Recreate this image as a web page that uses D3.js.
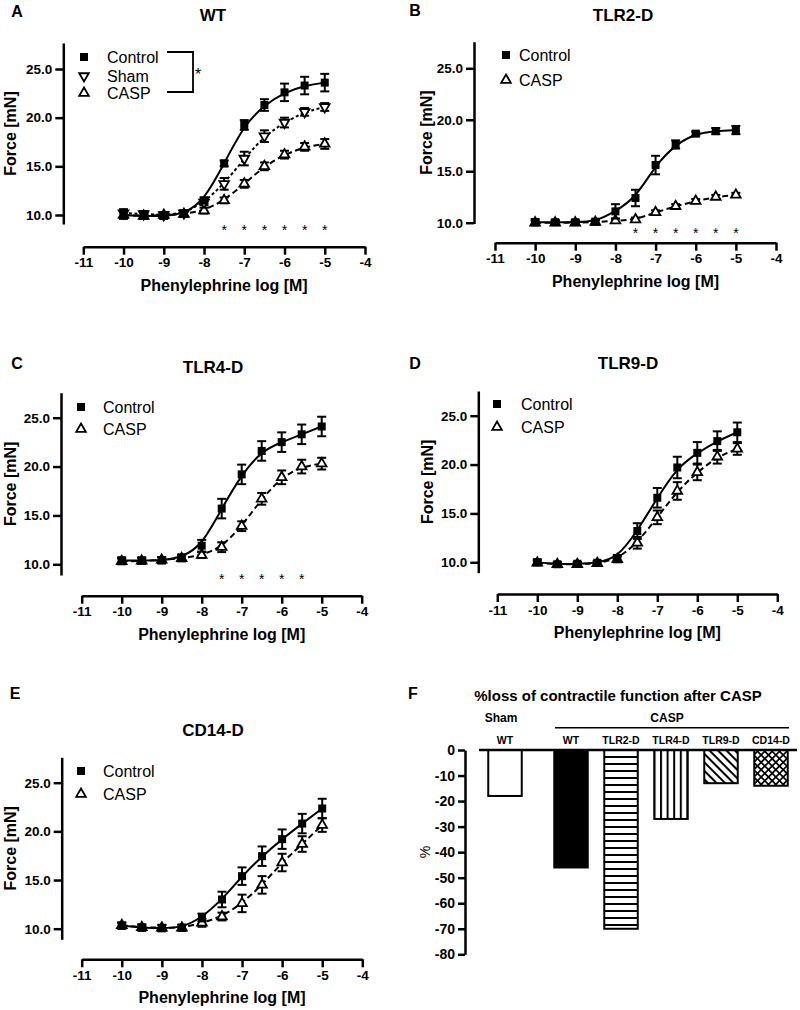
<!DOCTYPE html>
<html><head><meta charset="utf-8">
<script src="https://cdn.jsdelivr.net/npm/d3@7"></script>
<style>
body{margin:0;background:#fff}
svg{display:block}
text{font-family:"Liberation Sans",Arial,Helvetica,sans-serif;fill:#000}
</style>
</head><body>
<svg id="chart" width="800" height="1010"></svg>
<script>
// ---------------- DATA ----------------
const concentrations = [-10, -9.5, -9, -8.5, -8, -7.5, -7, -6.5, -6, -5.5, -5];
const xTickValues = [-11, -10, -9, -8, -7, -6, -5, -4];
const yTickValues = [10, 15, 20, 25];

// A: WT
const wtControl    = [10.0, 9.9, 9.9, 10.1, 11.5, 15.3, 19.25, 21.3, 22.6, 23.3, 23.6];
const wtControlSem = [0.4, 0.3, 0.3, 0.3, 0.3, 0.3, 0.5, 0.6, 0.9, 0.9, 0.9];
const wtSham       = [10.2, 10.1, 10.0, 10.2, 11.3, 13.2, 15.8, 18.1, 19.5, 20.6, 21.1];
const wtShamSem    = [0.4, 0.3, 0.3, 0.3, 0.3, 0.6, 0.7, 0.6, 0.5, 0.4, 0.4];
const wtCasp       = [10.0, 9.9, 10.0, 10.1, 10.45, 11.5, 13.2, 15.0, 16.2, 17.0, 17.3];
const wtCaspSem    = [0.3, 0.3, 0.3, 0.3, 0.3, 0.3, 0.4, 0.4, 0.4, 0.4, 0.5];
// B: TLR2-D
const tlr2Control    = [10.05, 10.05, 10.05, 10.1, 11.1, 12.4, 15.6, 17.6, 18.65, 18.9, 19.0];
const tlr2ControlSem = [0.3, 0.2, 0.2, 0.2, 0.7, 0.8, 0.9, 0.4, 0.2, 0.3, 0.4];
const tlr2Casp       = [10.0, 10.0, 10.0, 10.05, 10.2, 10.3, 11.0, 11.6, 12.1, 12.5, 12.7];
const tlr2CaspSem    = [0.2, 0.2, 0.2, 0.2, 0.2, 0.2, 0.2, 0.2, 0.2, 0.2, 0.2];
// C: TLR4-D
const tlr4Control    = [10.4, 10.4, 10.4, 10.7, 11.9, 15.7, 19.2, 21.6, 22.5, 23.3, 24.1];
const tlr4ControlSem = [0.3, 0.3, 0.3, 0.3, 0.6, 1.0, 1.0, 1.0, 1.0, 1.0, 1.0];
const tlr4Casp       = [10.3, 10.35, 10.45, 10.6, 10.95, 11.75, 13.9, 16.7, 18.9, 20.0, 20.3];
const tlr4CaspSem    = [0.3, 0.3, 0.3, 0.3, 0.3, 0.5, 0.5, 0.6, 0.7, 0.7, 0.6];
// D: TLR9-D
const tlr9Control    = [10.0, 9.8, 9.85, 9.95, 10.45, 13.2, 16.6, 19.7, 21.2, 22.4, 23.3];
const tlr9ControlSem = [0.3, 0.2, 0.2, 0.2, 0.3, 0.8, 1.0, 1.1, 1.1, 1.0, 1.0];
const tlr9Casp       = [9.95, 9.8, 9.8, 9.9, 10.3, 12.0, 14.6, 17.3, 19.2, 20.8, 21.6];
const tlr9CaspSem    = [0.2, 0.2, 0.2, 0.2, 0.3, 0.6, 0.7, 0.9, 0.8, 0.7, 0.6];
// E: CD14-D
const cd14Control    = [10.3, 10.1, 10.05, 10.1, 11.15, 13.0, 15.4, 17.45, 19.2, 20.8, 22.35];
const cd14ControlSem = [0.3, 0.3, 0.3, 0.3, 0.4, 0.8, 0.9, 1.0, 1.0, 1.0, 1.0];
const cd14Casp       = [10.35, 10.15, 10.1, 10.1, 10.6, 11.25, 12.6, 14.5, 16.8, 18.7, 20.65];
const cd14CaspSem    = [0.3, 0.3, 0.3, 0.3, 0.4, 0.4, 0.9, 0.9, 0.9, 0.8, 0.7];
// significance marks
const starsWT   = [-7.5, -7, -6.5, -6, -5.5, -5];
const starsTLR2 = [-7.5, -7, -6.5, -6, -5.5, -5];
const starsTLR4 = [-7.5, -7, -6.5, -6, -5.5];

// F: % loss
const lossLabels = ["WT", "WT", "TLR2-D", "TLR4-D", "TLR9-D", "CD14-D"];
const lossGroups = ["Sham", "CASP", "CASP", "CASP", "CASP", "CASP"];
const lossValues = [-18, -46, -70, -27, -13, -14];
const lossTicks  = [0, -10, -20, -30, -40, -50, -60, -70, -80];

// ---------------- DRAW ----------------
const svg = d3.select("#chart");
const defs = svg.append("defs");

function styleAxis(sel, fs) {
  sel.select(".domain").attr("stroke", "#000").attr("stroke-width", 2.5).attr("fill", "none");
  sel.selectAll(".tick line").attr("stroke", "#000").attr("stroke-width", 2.5);
  sel.selectAll(".tick text").attr("font-size", fs).attr("font-weight", "bold").attr("fill", "#000")
     .style("font-family", '"Liberation Sans",Arial,sans-serif');
}

const symSquare = d3.symbol().type(d3.symbolSquare).size(64);
const symTri = d3.symbol().type(d3.symbolTriangle).size(40);

function drawMarker(g, type, cx, cy) {
  if (type === "square") {
    g.append("path").attr("d", symSquare()).attr("transform", `translate(${cx},${cy})`).attr("fill", "#000");
  } else {
    const rot = type === "triDown" ? 180 : 0;
    g.append("path").attr("d", symTri()).attr("transform", `translate(${cx},${cy}) rotate(${rot})`)
      .attr("fill", "#fff").attr("stroke", "#000").attr("stroke-width", 1.8);
  }
}

const panels = [
  { label: "A", title: "WT", labelPos: [17, 11], titlePos: [213, 15],
    yAxisX: 63.3, x0: 83.3, x1: 365, xAxisY: 246.7, y10: 215, y25: 69, yTop: 43, yBot: 224, yLabelX: 10,
    legend: { sx: 84, tx: 107, ys: [57, 76, 93] },
    series: [
      { name: "Control", v: wtControl, e: wtControlSem, m: "square", dash: null },
      { name: "Sham", v: wtSham, e: wtShamSem, m: "triDown", dash: "3,2.5" },
      { name: "CASP", v: wtCasp, e: wtCaspSem, m: "tri", dash: "6,3.5" }
    ], stars: starsWT, starY: 227, bracket: true },
  { label: "B", title: "TLR2-D", labelPos: [415, 10], titlePos: [623, 15],
    yAxisX: 474, x0: 495, x1: 776, xAxisY: 242.7, y10: 222.7, y25: 68.3, yTop: 41.7, yBot: 223.5, yLabelX: 426,
    legend: { sx: 506, tx: 519, ys: [55, 80] },
    series: [
      { name: "Control", v: tlr2Control, e: tlr2ControlSem, m: "square", dash: null },
      { name: "CASP", v: tlr2Casp, e: tlr2CaspSem, m: "tri", dash: "6,3.5" }
    ], stars: starsTLR2, starY: 230 },
  { label: "C", title: "TLR4-D", labelPos: [17, 363], titlePos: [213, 366.7],
    yAxisX: 61, x0: 81.7, x1: 361.7, xAxisY: 595.7, y10: 564.3, y25: 417.7, yTop: 392.7, yBot: 575, yLabelX: 10,
    legend: { sx: 81, tx: 103, ys: [407, 429] },
    series: [
      { name: "Control", v: tlr4Control, e: tlr4ControlSem, m: "square", dash: null },
      { name: "CASP", v: tlr4Casp, e: tlr4CaspSem, m: "tri", dash: "6,3.5" }
    ], stars: starsTLR4, starY: 576 },
  { label: "D", title: "TLR9-D", labelPos: [415, 363], titlePos: [628, 363],
    yAxisX: 478.3, x0: 497.3, x1: 777.3, xAxisY: 594, y10: 562.3, y25: 415.7, yTop: 391, yBot: 572.7, yLabelX: 427,
    legend: { sx: 497, tx: 521, ys: [404, 427] },
    series: [
      { name: "Control", v: tlr9Control, e: tlr9ControlSem, m: "square", dash: null },
      { name: "CASP", v: tlr9Casp, e: tlr9CaspSem, m: "tri", dash: "6,3.5" }
    ], stars: [], starY: 0 },
  { label: "E", title: "CD14-D", labelPos: [15, 693], titlePos: [213, 730],
    yAxisX: 61.7, x0: 81.7, x1: 362.3, xAxisY: 959.3, y10: 928.7, y25: 782.7, yTop: 757.3, yBot: 939.3, yLabelX: 10,
    legend: { sx: 81, tx: 103, ys: [771, 794] },
    series: [
      { name: "Control", v: cd14Control, e: cd14ControlSem, m: "square", dash: null },
      { name: "CASP", v: cd14Casp, e: cd14CaspSem, m: "tri", dash: "6,3.5" }
    ], stars: [], starY: 0 }
];

panels.forEach(p => {
  const g = svg.append("g");
  const x = d3.scaleLinear().domain([-11, -4]).range([p.x0, p.x1]);
  const yRef = d3.scaleLinear().domain([10, 25]).range([p.y10, p.y25]);
  const y = d3.scaleLinear().domain([yRef.invert(p.yBot), yRef.invert(p.yTop)]).range([p.yBot, p.yTop]);

  // axes
  const ya = g.append("g").attr("transform", `translate(${p.yAxisX},0)`)
    .call(d3.axisLeft(y).tickValues(yTickValues).tickFormat(d => d.toFixed(1)).tickSize(8).tickSizeOuter(0).tickPadding(3));
  styleAxis(ya, 13.5);
  const xa = g.append("g").attr("transform", `translate(0,${p.xAxisY})`)
    .call(d3.axisBottom(x).tickValues(xTickValues).tickFormat(d => String(d)).tickSize(8).tickSizeOuter(0).tickPadding(3));
  styleAxis(xa, 13.5);

  // titles
  g.append("text").attr("x", p.labelPos[0]).attr("y", p.labelPos[1]).attr("dy", "0.35em")
    .attr("text-anchor", "middle").attr("font-size", 16).attr("font-weight", "bold").text(p.label);
  g.append("text").attr("x", p.titlePos[0]).attr("y", p.titlePos[1]).attr("dy", "0.35em")
    .attr("text-anchor", "middle").attr("font-size", 17).attr("font-weight", "bold").text(p.title);
  g.append("text").attr("x", (p.x0 + p.x1) / 2).attr("y", p.xAxisY + 38.5).attr("dy", "0.35em")
    .attr("text-anchor", "middle").attr("font-size", 16).attr("font-weight", "bold").text("Phenylephrine log [M]");
  g.append("text").attr("transform", `translate(${p.yLabelX},${(p.yTop + p.yBot) / 2}) rotate(-90)`)
    .attr("dy", "0.35em").attr("text-anchor", "middle").attr("font-size", 16).attr("font-weight", "bold").text("Force [mN]");

  // curves (draw in reverse so Control on top)
  const line = d3.line().x((d, i) => x(concentrations[i])).y(d => y(d)).curve(d3.curveBasis);
  const order = p.series.slice().reverse();
  order.forEach(s => {
    g.append("path").attr("d", line(s.v)).attr("fill", "none").attr("stroke", "#000")
      .attr("stroke-width", 2).attr("stroke-dasharray", s.dash);
  });
  order.forEach(s => {
    const eg = g.append("g");
    s.v.forEach((v, i) => {
      const cx = x(concentrations[i]);
      const yHi = y(v + s.e[i]), yLo = y(v - s.e[i]);
      eg.append("line").attr("x1", cx).attr("x2", cx).attr("y1", yHi).attr("y2", yLo).attr("stroke", "#000").attr("stroke-width", 2);
      [yHi, yLo].forEach(yy => eg.append("line").attr("x1", cx - 4.5).attr("x2", cx + 4.5).attr("y1", yy).attr("y2", yy)
        .attr("stroke", "#000").attr("stroke-width", 2));
    });
    s.v.forEach((v, i) => drawMarker(eg, s.m, x(concentrations[i]), y(v)));
  });

  // legend
  p.series.forEach((s, i) => {
    drawMarker(g, s.m, p.legend.sx, p.legend.ys[i]);
    g.append("text").attr("x", p.legend.tx).attr("y", p.legend.ys[i]).attr("dy", "0.35em")
      .attr("font-size", 16).text(s.name);
  });
  if (p.bracket) {
    const ys = p.legend.ys;
    g.append("path").attr("d", `M167,${ys[0] - 5}H193V${ys[2] - 1}H167`).attr("fill", "none")
      .attr("stroke", "#000").attr("stroke-width", 1.8);
    g.append("text").attr("x", 198).attr("y", 80).attr("text-anchor", "middle").attr("font-size", 16).text("*");
  }
  // significance stars
  p.stars.forEach(c => {
    g.append("text").attr("x", x(c)).attr("y", p.starY + 7.5).attr("text-anchor", "middle")
      .attr("font-size", 14).text("*");
  });
});

// ---------------- PANEL F ----------------
const pat = (id, w, h, transform) => defs.append("pattern").attr("id", id).attr("patternUnits", "userSpaceOnUse")
  .attr("width", w).attr("height", h).attr("patternTransform", transform || null);
let pp = pat("hstripe", 10, 7);
pp.append("rect").attr("width", 10).attr("height", 7).attr("fill", "#fff");
pp.append("rect").attr("width", 10).attr("height", 2).attr("fill", "#000");
pp = pat("vstripe", 6.6, 10);
pp.append("rect").attr("width", 6.6).attr("height", 10).attr("fill", "#fff");
pp.append("rect").attr("width", 2).attr("height", 10).attr("fill", "#000");
pp = pat("diag", 6, 10, "rotate(-45)");
pp.append("rect").attr("width", 6).attr("height", 10).attr("fill", "#fff");
pp.append("rect").attr("width", 2).attr("height", 10).attr("fill", "#000");
pp = pat("cross", 5.2, 5.2, "rotate(45)");
pp.append("rect").attr("width", 5.2).attr("height", 5.2).attr("fill", "#fff");
pp.append("rect").attr("width", 1.7).attr("height", 5.2).attr("fill", "#000");
pp.append("rect").attr("width", 5.2).attr("height", 1.7).attr("fill", "#000");

const barFills = ["#fff", "#000", "url(#hstripe)", "url(#vstripe)", "url(#diag)", "url(#cross)"];
const casGap = 16;

const fg = svg.append("g");
const yF = d3.scaleLinear().domain([-80, 0]).range([954.3, 750]);
const xF = d3.scaleBand().domain(d3.range(lossValues.length)).range([480, 780]).paddingInner(0.33).paddingOuter(0.165);
const barX = i => xF(i) + (lossGroups[i] === "CASP" ? casGap : 0);

const fa = fg.append("g").attr("transform", "translate(465,0)")
  .call(d3.axisLeft(yF).tickValues(lossTicks).tickFormat(d => String(d)).tickSize(7).tickSizeOuter(0).tickPadding(3));
styleAxis(fa, 14);

fg.selectAll("rect.bar").data(lossValues).join("rect").attr("class", "bar")
  .attr("x", (d, i) => barX(i)).attr("width", xF.bandwidth())
  .attr("y", yF(0)).attr("height", d => yF(d) - yF(0))
  .attr("fill", (d, i) => barFills[i]).attr("stroke", "#000").attr("stroke-width", 2);

fg.append("line").attr("x1", 479).attr("x2", 797).attr("y1", yF(0)).attr("y2", yF(0)).attr("stroke", "#000").attr("stroke-width", 2.5);

lossLabels.forEach((l, i) => {
  fg.append("text").attr("x", barX(i) + xF.bandwidth() / 2).attr("y", 740).attr("dy", "0.35em")
    .attr("text-anchor", "middle").attr("font-size", 10.5).attr("font-weight", "bold").text(l);
});
// group headers
const shamIdx = lossGroups.map((g, i) => g === "Sham" ? i : -1).filter(i => i >= 0);
const caspIdx = lossGroups.map((g, i) => g === "CASP" ? i : -1).filter(i => i >= 0);
const cx = i => barX(i) + xF.bandwidth() / 2;
fg.append("text").attr("x", d3.mean(shamIdx, cx) - 4).attr("y", 718).attr("dy", "0.35em")
  .attr("text-anchor", "middle").attr("font-size", 12).attr("font-weight", "bold").text("Sham");
fg.append("text").attr("x", d3.mean(caspIdx, cx) - 4).attr("y", 718).attr("dy", "0.35em")
  .attr("text-anchor", "middle").attr("font-size", 12).attr("font-weight", "bold").text("CASP");
fg.append("line").attr("x1", 555).attr("x2", 789).attr("y1", 727.7).attr("y2", 727.7).attr("stroke", "#000").attr("stroke-width", 1.5);

fg.append("text").attr("x", 413).attr("y", 693).attr("dy", "0.35em").attr("text-anchor", "middle")
  .attr("font-size", 16).attr("font-weight", "bold").text("F");
fg.append("text").attr("x", 618).attr("y", 696).attr("dy", "0.35em").attr("text-anchor", "middle")
  .attr("font-size", 15).attr("font-weight", "bold").text("%loss of contractile function after CASP");
fg.append("text").attr("transform", "translate(425,852) rotate(-90)").attr("dy", "0.35em").attr("text-anchor", "middle")
  .attr("font-size", 14).text("%");
</script>
</body></html>
